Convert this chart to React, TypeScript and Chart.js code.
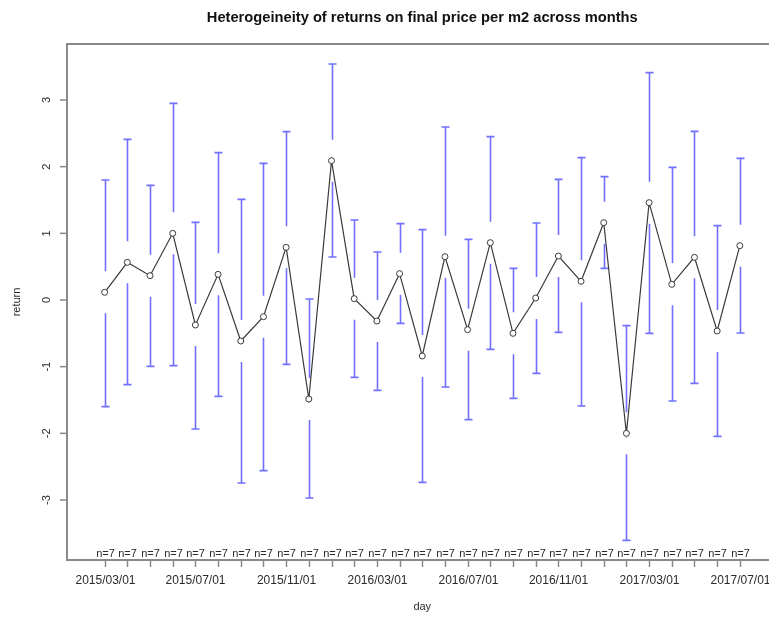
import React, { useEffect, useRef } from "react";
import { Chart, registerables } from "chart.js";

Chart.register(...registerables);

// Monthly observation dates (one group per month)
const days = [
  "2015/03/01", "2015/04/01", "2015/05/01", "2015/06/01", "2015/07/01", "2015/08/01",
  "2015/09/01", "2015/10/01", "2015/11/01", "2015/12/01", "2016/01/01", "2016/02/01",
  "2016/03/01", "2016/04/01", "2016/05/01", "2016/06/01", "2016/07/01", "2016/08/01",
  "2016/09/01", "2016/10/01", "2016/11/01", "2016/12/01", "2017/01/01", "2017/02/01",
  "2017/03/01", "2017/04/01", "2017/05/01", "2017/06/01", "2017/07/01",
];

// Group means of the return
const means = [
  0.115, 0.565, 0.365, 1.0, -0.375, 0.385, -0.615, -0.25, 0.79, -1.485,
  2.09, 0.02, -0.315, 0.395, -0.84, 0.65, -0.445, 0.86, -0.5, 0.03,
  0.66, 0.28, 1.16, -2.0, 1.46, 0.235, 0.64, -0.465, 0.815,
];

// Upper and lower confidence limits
const upper = [
  1.8, 2.41, 1.72, 2.95, 1.165, 2.21, 1.51, 2.05, 2.525, 0.015,
  3.54, 1.2, 0.72, 1.145, 1.055, 2.595, 0.91, 2.45, 0.475, 1.155,
  1.81, 2.135, 1.85, -0.385, 3.41, 1.99, 2.53, 1.115, 2.125,
];
const lower = [
  -1.6, -1.27, -0.995, -0.985, -1.935, -1.445, -2.745, -2.56, -0.965, -2.97,
  0.645, -1.16, -1.355, -0.35, -2.735, -1.305, -1.795, -0.74, -1.475, -1.1,
  -0.485, -1.59, 0.475, -3.605, -0.5, -1.515, -1.25, -2.045, -0.495,
];

// Group sizes
const counts = [
  7, 7, 7, 7, 7, 7, 7, 7, 7, 7, 7, 7, 7, 7, 7, 7, 7, 7, 7, 7, 7, 7, 7, 7, 7, 7, 7, 7, 7,
];

const yTicks = [-3, -2, -1, 0, 1, 2, 3];
const labelEvery = 4;

const TITLE = "Heterogeineity of returns on final price per m2 across months";
const X_TITLE = "day";
const Y_TITLE = "return";

const FONT = '"Liberation Sans", Arial, sans-serif';
const TEXT = "#2a2a2a";
const AXIS = "#8a8a8a";
const BAR = "rgb(112,112,255)";

if (typeof document !== "undefined") {
  document.body.style.margin = "0";
}

const rStylePlugin = {
  id: "rStyle",
  beforeDatasetsDraw(chart: any) {
    const { ctx, scales } = chart;
    const xs = scales.x;
    const ys = scales.y;
    const gap = 21;
    const cap = 4;
    ctx.save();
    ctx.strokeStyle = BAR;
    ctx.lineWidth = 1.6;
    for (let i = 0; i < means.length; i++) {
      const x = Math.round(xs.getPixelForValue(i + 1)) + 0.5;
      const ym = ys.getPixelForValue(means[i]);
      const yu = ys.getPixelForValue(upper[i]);
      const yl = ys.getPixelForValue(lower[i]);
      ctx.beginPath();
      if (ym - gap > yu) {
        ctx.moveTo(x, yu);
        ctx.lineTo(x, ym - gap);
      }
      if (ym + gap < yl) {
        ctx.moveTo(x, ym + gap);
        ctx.lineTo(x, yl);
      }
      ctx.moveTo(x - cap, yu);
      ctx.lineTo(x + cap, yu);
      ctx.moveTo(x - cap, yl);
      ctx.lineTo(x + cap, yl);
      ctx.stroke();
    }
    ctx.restore();
  },
  afterDraw(chart: any) {
    const { ctx, chartArea, scales } = chart;
    const xs = scales.x;
    const ys = scales.y;
    const { left, right, top, bottom } = chartArea;
    ctx.save();

    // plot box
    ctx.strokeStyle = AXIS;
    ctx.lineWidth = 2;
    ctx.strokeRect(left, top, right - left, bottom - top);

    // y axis ticks and rotated labels
    ctx.lineWidth = 1.5;
    ctx.fillStyle = TEXT;
    ctx.font = `11px ${FONT}`;
    for (const v of yTicks) {
      const y = ys.getPixelForValue(v);
      ctx.beginPath();
      ctx.moveTo(left - 7, y);
      ctx.lineTo(left, y);
      ctx.stroke();
      ctx.save();
      ctx.translate(left - 20, y);
      ctx.rotate(-Math.PI / 2);
      ctx.textAlign = "center";
      ctx.textBaseline = "middle";
      ctx.fillText(String(v), 0, 0);
      ctx.restore();
    }

    // x axis ticks, group sizes and date labels
    for (let i = 0; i < days.length; i++) {
      const x = Math.round(xs.getPixelForValue(i + 1)) + 0.5;
      ctx.beginPath();
      ctx.moveTo(x, bottom);
      ctx.lineTo(x, bottom + 7);
      ctx.stroke();
      ctx.textAlign = "center";
      ctx.textBaseline = "alphabetic";
      ctx.font = `11px ${FONT}`;
      ctx.fillText(`n=${counts[i]}`, x, bottom - 3);
      if (i % labelEvery === 0) {
        ctx.font = `12px ${FONT}`;
        ctx.textBaseline = "middle";
        ctx.fillText(days[i], x, bottom + 21);
      }
    }

    const cx = (left + right) / 2;
    // title
    ctx.font = `bold 14.7px ${FONT}`;
    ctx.textAlign = "center";
    ctx.textBaseline = "middle";
    ctx.fillStyle = "#111";
    ctx.fillText(TITLE, cx, 18);

    // axis titles
    ctx.fillStyle = TEXT;
    ctx.font = `11px ${FONT}`;
    ctx.fillText(X_TITLE, cx, bottom + 47);
    ctx.save();
    ctx.translate(17, (top + bottom) / 2);
    ctx.rotate(-Math.PI / 2);
    ctx.fillText(Y_TITLE, 0, 0);
    ctx.restore();

    ctx.restore();
  },
};

export default function App() {
  const ref = useRef<HTMLCanvasElement | null>(null);

  useEffect(() => {
    if (!ref.current) return;
    const chart = new Chart(ref.current, {
      type: "line",
      data: {
        datasets: [
          {
            label: "mean",
            data: means.map((m, i) => ({ x: i + 1, y: m })),
            borderColor: "#3a3a3a",
            borderWidth: 1.2,
            pointRadius: 3,
            pointBorderWidth: 1,
            pointBorderColor: "#3a3a3a",
            pointBackgroundColor: "#ffffff",
            tension: 0,
            fill: false,
          },
        ],
      },
      options: {
        responsive: false,
        animation: false,
        events: [],
        layout: { padding: { left: 67, top: 44, right: 22.5, bottom: 57 } },
        plugins: {
          legend: { display: false },
          title: { display: false },
          tooltip: { enabled: false },
        },
        scales: {
          x: { type: "linear", min: -0.66, max: 30.66, display: false },
          y: { type: "linear", min: -3.9, max: 3.84, display: false },
        },
      },
      plugins: [rStylePlugin],
    });
    return () => chart.destroy();
  }, []);

  return (
    <div
      style={{
        width: "769px",
        height: "617px",
        overflow: "hidden",
        position: "relative",
        background: "#ffffff",
      }}
    >
      <canvas ref={ref} width={800} height={617} style={{ display: "block" }} />
    </div>
  );
}
